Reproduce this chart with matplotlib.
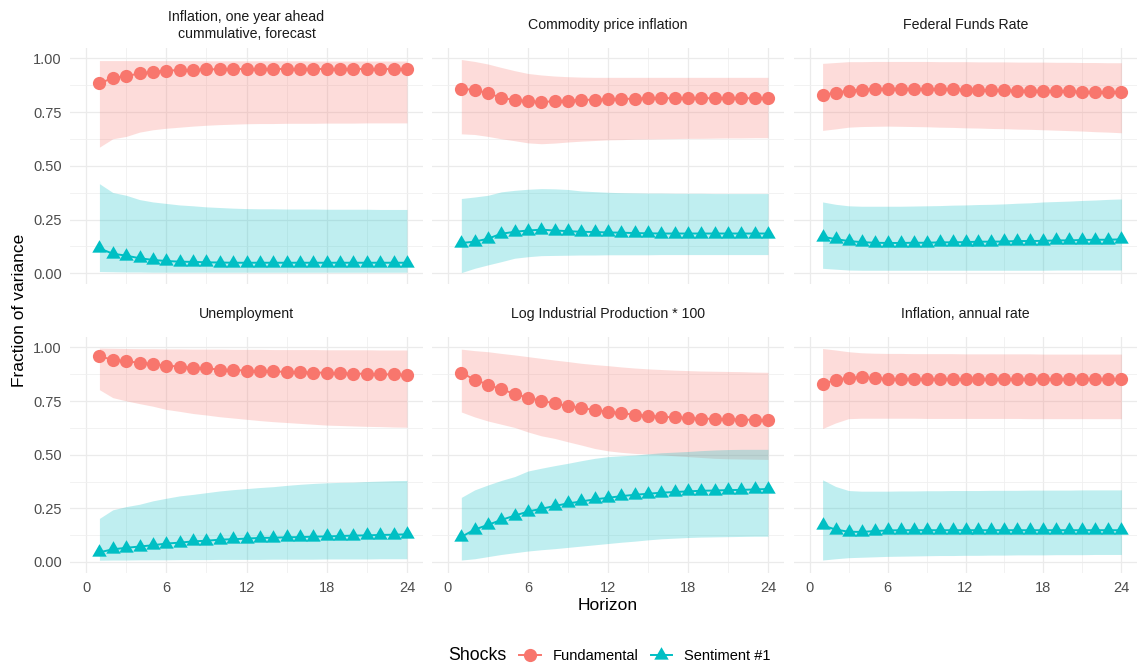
import matplotlib
matplotlib.use("Agg")
import matplotlib.pyplot as plt
from matplotlib.lines import Line2D

plt.rcParams["font.family"] = ["Liberation Sans", "DejaVu Sans"]

horizon = list(range(1, 25))

# Inflation, one year ahead cummulative forecast
infl_fc_fund = [0.884, 0.909, 0.918, 0.930, 0.938, 0.943, 0.946, 0.947, 0.949, 0.950, 0.951, 0.951,
                0.951, 0.951, 0.951, 0.951, 0.951, 0.951, 0.951, 0.951, 0.951, 0.951, 0.951, 0.951]
infl_fc_fund_lo = [0.587, 0.626, 0.637, 0.657, 0.668, 0.675, 0.680, 0.685, 0.689, 0.692, 0.694, 0.696,
                   0.697, 0.697, 0.698, 0.698, 0.698, 0.699, 0.699, 0.699, 0.700, 0.700, 0.700, 0.700]
infl_fc_fund_hi = [0.990, 0.990, 0.990, 0.990, 0.990, 0.990, 0.990, 0.990, 0.989, 0.989, 0.989, 0.989,
                   0.989, 0.989, 0.989, 0.989, 0.988, 0.988, 0.988, 0.988, 0.988, 0.988, 0.988, 0.988]
infl_fc_sent = [0.116, 0.091, 0.082, 0.070, 0.062, 0.057, 0.054, 0.053, 0.051, 0.050, 0.049, 0.049,
                0.049, 0.049, 0.049, 0.049, 0.049, 0.049, 0.049, 0.049, 0.049, 0.049, 0.049, 0.049]
infl_fc_sent_lo = [0.008, 0.007, 0.006, 0.006, 0.005, 0.005, 0.005, 0.005, 0.005, 0.005, 0.005, 0.005,
                   0.005, 0.005, 0.005, 0.005, 0.005, 0.005, 0.005, 0.005, 0.005, 0.005, 0.005, 0.005]
infl_fc_sent_hi = [0.417, 0.376, 0.363, 0.343, 0.332, 0.325, 0.318, 0.314, 0.309, 0.306, 0.303, 0.301,
                   0.300, 0.300, 0.299, 0.299, 0.299, 0.298, 0.298, 0.298, 0.298, 0.297, 0.297, 0.297]

# Commodity price inflation
comm_fund = [0.859, 0.853, 0.839, 0.816, 0.807, 0.801, 0.797, 0.801, 0.804, 0.807, 0.808, 0.810,
             0.811, 0.813, 0.814, 0.815, 0.815, 0.815, 0.815, 0.815, 0.815, 0.815, 0.815, 0.815]
comm_fund_lo = [0.649, 0.646, 0.637, 0.626, 0.617, 0.607, 0.603, 0.606, 0.611, 0.615, 0.618, 0.621,
                0.622, 0.624, 0.625, 0.626, 0.627, 0.628, 0.628, 0.629, 0.630, 0.630, 0.631, 0.631]
comm_fund_hi = [0.995, 0.986, 0.974, 0.958, 0.943, 0.930, 0.923, 0.918, 0.915, 0.913, 0.912, 0.912,
                0.912, 0.912, 0.912, 0.912, 0.912, 0.912, 0.912, 0.912, 0.912, 0.912, 0.912, 0.912]
comm_sent = [0.141, 0.147, 0.161, 0.184, 0.193, 0.199, 0.203, 0.199, 0.196, 0.193, 0.192, 0.190,
             0.189, 0.187, 0.186, 0.185, 0.185, 0.185, 0.185, 0.185, 0.185, 0.185, 0.185, 0.185]
comm_sent_lo = [0.003, 0.023, 0.039, 0.054, 0.070, 0.077, 0.082, 0.083, 0.084, 0.085, 0.085, 0.086,
                0.086, 0.086, 0.086, 0.087, 0.087, 0.087, 0.087, 0.087, 0.087, 0.087, 0.087, 0.087]
comm_sent_hi = [0.348, 0.355, 0.363, 0.379, 0.386, 0.391, 0.394, 0.393, 0.390, 0.383, 0.380, 0.377,
                0.375, 0.374, 0.373, 0.373, 0.372, 0.372, 0.372, 0.371, 0.371, 0.371, 0.371, 0.371]

# Federal Funds Rate
ffr_fund = [0.830, 0.841, 0.850, 0.855, 0.858, 0.859, 0.859, 0.858, 0.858, 0.856, 0.856, 0.855,
            0.853, 0.853, 0.852, 0.850, 0.850, 0.849, 0.847, 0.847, 0.845, 0.844, 0.844, 0.842]
ffr_fund_lo = [0.665, 0.672, 0.680, 0.683, 0.684, 0.685, 0.684, 0.683, 0.682, 0.680, 0.679, 0.677,
               0.676, 0.674, 0.673, 0.671, 0.670, 0.668, 0.666, 0.664, 0.662, 0.659, 0.657, 0.654]
ffr_fund_hi = [0.977, 0.981, 0.985, 0.985, 0.986, 0.986, 0.986, 0.986, 0.986, 0.985, 0.985, 0.985,
               0.984, 0.984, 0.984, 0.983, 0.983, 0.983, 0.982, 0.982, 0.981, 0.981, 0.980, 0.980]
ffr_sent = [0.170, 0.159, 0.150, 0.145, 0.142, 0.141, 0.141, 0.142, 0.142, 0.144, 0.144, 0.145,
            0.147, 0.147, 0.148, 0.150, 0.150, 0.151, 0.153, 0.153, 0.155, 0.156, 0.156, 0.158]
ffr_sent_lo = [0.023, 0.019, 0.015, 0.014, 0.014, 0.014, 0.014, 0.014, 0.014, 0.014, 0.014, 0.014,
               0.014, 0.014, 0.014, 0.014, 0.014, 0.014, 0.015, 0.015, 0.015, 0.015, 0.015, 0.015]
ffr_sent_hi = [0.332, 0.321, 0.314, 0.312, 0.312, 0.312, 0.312, 0.313, 0.314, 0.315, 0.317, 0.318,
               0.320, 0.321, 0.323, 0.326, 0.328, 0.332, 0.334, 0.336, 0.339, 0.341, 0.344, 0.346]

# Unemployment
unemp_fund = [0.958, 0.943, 0.935, 0.929, 0.923, 0.915, 0.911, 0.905, 0.902, 0.897, 0.895, 0.892,
              0.889, 0.888, 0.886, 0.885, 0.883, 0.882, 0.880, 0.878, 0.877, 0.875, 0.874, 0.872]
unemp_fund_lo = [0.803, 0.766, 0.751, 0.738, 0.726, 0.711, 0.702, 0.692, 0.685, 0.677, 0.671, 0.665,
                 0.659, 0.654, 0.650, 0.646, 0.642, 0.638, 0.636, 0.634, 0.632, 0.631, 0.629, 0.628]
unemp_fund_hi = [0.997, 0.996, 0.995, 0.994, 0.994, 0.993, 0.993, 0.992, 0.992, 0.992, 0.991, 0.991,
                 0.991, 0.990, 0.990, 0.990, 0.990, 0.989, 0.989, 0.989, 0.989, 0.988, 0.988, 0.988]
unemp_sent = [0.045, 0.059, 0.066, 0.072, 0.078, 0.086, 0.090, 0.096, 0.099, 0.104, 0.106, 0.109,
              0.112, 0.113, 0.115, 0.116, 0.118, 0.119, 0.121, 0.123, 0.124, 0.126, 0.127, 0.129]
unemp_sent_lo = [0.008, 0.009, 0.009, 0.010, 0.010, 0.010, 0.011, 0.011, 0.011, 0.012, 0.012, 0.012,
                 0.012, 0.013, 0.013, 0.013, 0.013, 0.014, 0.014, 0.014, 0.014, 0.015, 0.015, 0.015]
unemp_sent_hi = [0.203, 0.243, 0.258, 0.269, 0.285, 0.297, 0.308, 0.315, 0.323, 0.331, 0.337, 0.342,
                 0.347, 0.351, 0.357, 0.362, 0.366, 0.369, 0.371, 0.372, 0.375, 0.377, 0.379, 0.380]

# Log Industrial Production * 100
ip_fund = [0.883, 0.849, 0.827, 0.804, 0.784, 0.765, 0.752, 0.739, 0.727, 0.718, 0.708, 0.701,
           0.693, 0.687, 0.682, 0.677, 0.674, 0.671, 0.668, 0.667, 0.665, 0.664, 0.662, 0.660]
ip_fund_lo = [0.699, 0.676, 0.657, 0.642, 0.627, 0.606, 0.588, 0.576, 0.560, 0.545, 0.529, 0.518,
              0.511, 0.506, 0.503, 0.500, 0.495, 0.491, 0.487, 0.483, 0.481, 0.480, 0.479, 0.478]
ip_fund_hi = [0.992, 0.985, 0.980, 0.972, 0.965, 0.957, 0.949, 0.941, 0.934, 0.926, 0.920, 0.915,
              0.909, 0.904, 0.900, 0.897, 0.894, 0.892, 0.890, 0.889, 0.888, 0.887, 0.885, 0.884]
ip_sent = [0.117, 0.151, 0.173, 0.196, 0.216, 0.235, 0.248, 0.261, 0.273, 0.282, 0.292, 0.299,
           0.307, 0.313, 0.318, 0.323, 0.326, 0.329, 0.332, 0.333, 0.335, 0.336, 0.338, 0.340]
ip_sent_lo = [0.009, 0.015, 0.025, 0.035, 0.043, 0.051, 0.057, 0.062, 0.068, 0.074, 0.080, 0.086,
              0.092, 0.097, 0.103, 0.108, 0.111, 0.114, 0.116, 0.117, 0.118, 0.119, 0.120, 0.120]
ip_sent_hi = [0.301, 0.336, 0.359, 0.380, 0.398, 0.424, 0.437, 0.449, 0.460, 0.472, 0.483, 0.491,
              0.495, 0.498, 0.504, 0.509, 0.512, 0.515, 0.519, 0.522, 0.524, 0.525, 0.525, 0.525]

# Inflation, annual rate
infl_fund = [0.829, 0.849, 0.859, 0.860, 0.856, 0.853, 0.852, 0.852, 0.852, 0.852, 0.852, 0.852,
             0.852, 0.852, 0.852, 0.852, 0.852, 0.852, 0.852, 0.852, 0.852, 0.852, 0.852, 0.852]
infl_fund_lo = [0.622, 0.648, 0.668, 0.670, 0.670, 0.670, 0.670, 0.670, 0.669, 0.669, 0.669, 0.669,
                0.669, 0.669, 0.669, 0.669, 0.668, 0.668, 0.668, 0.668, 0.668, 0.668, 0.668, 0.668]
infl_fund_hi = [0.995, 0.988, 0.980, 0.975, 0.973, 0.972, 0.972, 0.971, 0.971, 0.971, 0.971, 0.970,
                0.970, 0.970, 0.970, 0.970, 0.970, 0.969, 0.969, 0.969, 0.969, 0.969, 0.969, 0.969]
infl_sent = [0.171, 0.151, 0.141, 0.140, 0.144, 0.147, 0.148, 0.148, 0.148, 0.148, 0.148, 0.148,
             0.148, 0.148, 0.148, 0.148, 0.148, 0.148, 0.148, 0.148, 0.148, 0.148, 0.148, 0.148]
infl_sent_lo = [0.009, 0.015, 0.020, 0.022, 0.024, 0.026, 0.027, 0.028, 0.029, 0.030, 0.030, 0.031,
                0.031, 0.032, 0.032, 0.033, 0.033, 0.033, 0.034, 0.034, 0.034, 0.035, 0.035, 0.035]
infl_sent_hi = [0.383, 0.352, 0.333, 0.330, 0.330, 0.330, 0.331, 0.331, 0.332, 0.332, 0.333, 0.333,
                0.333, 0.334, 0.334, 0.334, 0.335, 0.335, 0.335, 0.335, 0.336, 0.336, 0.336, 0.336]

panels = [
    ("Inflation, one year ahead\ncummulative, forecast",
     infl_fc_fund, infl_fc_fund_lo, infl_fc_fund_hi, infl_fc_sent, infl_fc_sent_lo, infl_fc_sent_hi),
    ("Commodity price inflation",
     comm_fund, comm_fund_lo, comm_fund_hi, comm_sent, comm_sent_lo, comm_sent_hi),
    ("Federal Funds Rate",
     ffr_fund, ffr_fund_lo, ffr_fund_hi, ffr_sent, ffr_sent_lo, ffr_sent_hi),
    ("Unemployment",
     unemp_fund, unemp_fund_lo, unemp_fund_hi, unemp_sent, unemp_sent_lo, unemp_sent_hi),
    ("Log Industrial Production * 100",
     ip_fund, ip_fund_lo, ip_fund_hi, ip_sent, ip_sent_lo, ip_sent_hi),
    ("Inflation, annual rate",
     infl_fund, infl_fund_lo, infl_fund_hi, infl_sent, infl_sent_lo, infl_sent_hi),
]

FUND_COL = "#F8766D"
SENT_COL = "#00BFC4"
# triangle centred on its centroid, like R's pch 17
TRIANGLE = [(0, 1), (-0.866, -0.5), (0.866, -0.5)]
LW = 1.4
CIRCLE_MS = 9.5
TRI_MS = 12

W, H = 1138, 664
fig = plt.figure(figsize=(W / 100, H / 100), dpi=100)

col_x = [(70, 423), (432, 784), (794, 1137)]
row_y = [(47.7, 284), (336.7, 572.7)]

for i, (title, f, f_lo, f_hi, s, s_lo, s_hi) in enumerate(panels):
    r, c = divmod(i, 3)
    x0, x1 = col_x[c]
    y0, y1 = row_y[r]
    ax = fig.add_axes([x0 / W, 1 - y1 / H, (x1 - x0) / W, (y1 - y0) / H])

    ax.fill_between(horizon, f_lo, f_hi, color=FUND_COL, alpha=0.25, lw=0, zorder=2)
    ax.fill_between(horizon, s_lo, s_hi, color=SENT_COL, alpha=0.25, lw=0, zorder=2)
    ax.plot(horizon, f, color=FUND_COL, lw=LW, marker="o", ms=CIRCLE_MS, mew=0, zorder=3)
    ax.plot(horizon, s, color=SENT_COL, lw=LW, marker=TRIANGLE, ms=TRI_MS, mew=0, zorder=3)

    ax.set_xlim(-1.2, 25.2)
    ax.set_ylim(-0.05, 1.05)
    ax.set_xticks([0, 6, 12, 18, 24])
    ax.set_xticks([3, 9, 15, 21], minor=True)
    ax.set_yticks([0, 0.25, 0.5, 0.75, 1.0])
    ax.set_yticks([0.125, 0.375, 0.625, 0.875], minor=True)
    ax.grid(which="major", color="#EBEBEB", lw=0.9)
    ax.grid(which="minor", color="#F0F0F0", lw=0.6)
    ax.set_axisbelow(True)
    for sp in ax.spines.values():
        sp.set_visible(False)
    ax.tick_params(which="both", length=0, labelsize=10.5, labelcolor="#4D4D4D", pad=6)

    if c == 0:
        ax.set_yticklabels(["0.00", "0.25", "0.50", "0.75", "1.00"])
    else:
        ax.set_yticklabels([])
    if r == 0:
        ax.set_xticklabels([])

    ax.annotate(title, xy=(0.5, 1), xycoords="axes fraction", xytext=(0, 16),
                textcoords="offset points", ha="center", va="center",
                fontsize=10.2, color="#1A1A1A", linespacing=1.35)

fig.text(20 / W, 1 - 310 / H, "Fraction of variance", rotation=90,
         ha="center", va="center", fontsize=12.5)
fig.text(608 / W, 1 - 606 / H, "Horizon", ha="center", va="center", fontsize=12.5)

# legend at the bottom
fig.text(506 / W, 1 - 656 / H, "Shocks", ha="right", va="center", fontsize=12.8)
handles = [
    Line2D([], [], color=FUND_COL, lw=LW, marker="o", ms=CIRCLE_MS, mew=0),
    Line2D([], [], color=SENT_COL, lw=LW, marker=TRIANGLE, ms=TRI_MS, mew=0),
]
fig.legend(handles, ["Fundamental", "Sentiment #1"], loc="center",
           bbox_to_anchor=(645 / W, 1 - 656 / H), ncol=2, frameon=False,
           fontsize=10.5, handlelength=1.5, handletextpad=0.8, columnspacing=0.8)

fig.savefig("out.png", dpi=100)
